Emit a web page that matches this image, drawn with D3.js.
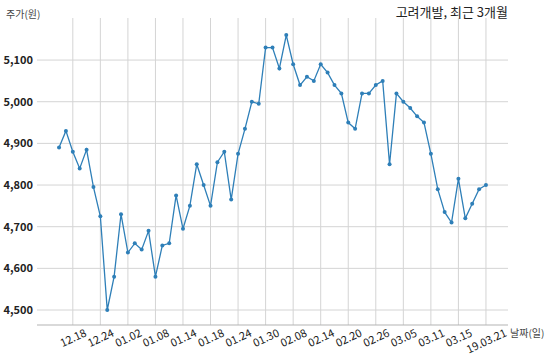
<!DOCTYPE html>
<html>
<head>
<meta charset="utf-8">
<script src="https://cdn.jsdelivr.net/npm/d3@7"></script>
<style>
  body { margin: 0; background: #fff; }
  text { font-family: "Noto Sans CJK KR", "Noto Sans", sans-serif; }
</style>
</head>
<body>
<div id="chart"></div>
<script>
"use strict";

// trading days, 2018.12.14 ~ 2019.03.21
const dates = [
  "12.14", "12.17", "12.18", "12.19", "12.20", "12.21", "12.24", "12.26", "12.27", "12.28",
  "01.02", "01.03", "01.04", "01.07", "01.08", "01.09", "01.10", "01.11", "01.14", "01.15",
  "01.16", "01.17", "01.18", "01.21", "01.22", "01.23", "01.24", "01.25", "01.28", "01.29",
  "01.30", "01.31", "02.01", "02.07", "02.08", "02.11", "02.12", "02.13", "02.14", "02.15",
  "02.18", "02.19", "02.20", "02.21", "02.22", "02.25", "02.26", "02.27", "02.28", "03.04",
  "03.05", "03.06", "03.07", "03.08", "03.11", "03.12", "03.13", "03.14", "03.15", "03.18",
  "03.19", "03.20", "03.21"
];

const prices = [
  4890, 4930, 4880, 4840, 4885, 4795, 4725, 4500, 4580, 4730,
  4638, 4660, 4645, 4690, 4580, 4655, 4660, 4775, 4695, 4750,
  4850, 4800, 4750, 4855, 4880, 4765, 4875, 4935, 5000, 4995,
  5130, 5130, 5080, 5160, 5090, 5040, 5060, 5050, 5090, 5070,
  5040, 5020, 4950, 4935, 5020, 5020, 5040, 5050, 4850, 5020,
  5000, 4985, 4965, 4950, 4875, 4790, 4735, 4710, 4815, 4720,
  4755, 4790, 4800
];

const tickDates = ["12.18", "12.24", "01.02", "01.08", "01.14", "01.18", "01.24", "01.30",
  "02.08", "02.14", "02.20", "02.26", "03.05", "03.11", "03.15", "03.21"];
const tickLabels = ["12.18", "12.24", "01.02", "01.08", "01.14", "01.18", "01.24", "01.30",
  "02.08", "02.14", "02.20", "02.26", "03.05", "03.11", "03.15", "19.03.21"];

const yTicks = [4500, 4600, 4700, 4800, 4900, 5000, 5100];

const title = "고려개발, 최근 3개월";
const yLabel = "주가(원)";
const xLabel = "날짜(일)";

drawChart();

function drawChart() {
  const width = 550, height = 360;
  const plotLeft = 37, plotRight = 508, plotTop = 18, plotBottom = 325;
  const lineColor = "#2e7fb8";

  const svg = d3.select("#chart").append("svg")
    .attr("width", width)
    .attr("height", height);

  const x = d3.scalePoint()
    .domain(dates)
    .range([plotLeft, plotRight])
    .padding(3.2);

  const y = d3.scaleLinear()
    .domain([4464, 5201])
    .range([plotBottom, plotTop]);

  // horizontal grid
  svg.append("g")
    .selectAll("line")
    .data(yTicks)
    .join("line")
    .attr("x1", plotLeft).attr("x2", plotRight)
    .attr("y1", d => y(d)).attr("y2", d => y(d))
    .attr("stroke", "#d4d4d4")
    .attr("stroke-width", 1);

  // vertical grid
  svg.append("g")
    .selectAll("line")
    .data(tickDates)
    .join("line")
    .attr("x1", d => x(d)).attr("x2", d => x(d))
    .attr("y1", plotTop).attr("y2", plotBottom)
    .attr("stroke", "#d4d4d4")
    .attr("stroke-width", 1);

  // bottom axis line
  svg.append("line")
    .attr("x1", plotLeft).attr("x2", plotRight)
    .attr("y1", plotBottom).attr("y2", plotBottom)
    .attr("stroke", "#b4b4b4")
    .attr("stroke-width", 1.2);

  // y tick labels
  svg.append("g")
    .selectAll("text")
    .data(yTicks)
    .join("text")
    .attr("x", plotLeft - 4)
    .attr("y", d => y(d))
    .attr("dy", "0.35em")
    .attr("text-anchor", "end")
    .attr("font-size", 11)
    .attr("font-weight", "bold")
    .attr("fill", "#222")
    .text(d => d3.format(",")(d));

  // x tick labels, rotated, top of rotated box sits at the axis
  const angle = 25;
  const rad = angle * Math.PI / 180;
  const xl = svg.append("g")
    .selectAll("text")
    .data(tickDates)
    .join("text")
    .attr("text-anchor", "middle")
    .attr("dominant-baseline", "central")
    .attr("font-size", 11)
    .attr("fill", "#222")
    .text((d, i) => tickLabels[i]);

  xl.each(function(d) {
    const w = this.getComputedTextLength();
    const h = 9;
    const cy = plotBottom + 2 + (w * Math.sin(rad) + h * Math.cos(rad)) / 2;
    d3.select(this)
      .attr("x", x(d)).attr("y", cy)
      .attr("transform", `rotate(${-angle},${x(d)},${cy})`);
  });

  // price line
  const line = d3.line()
    .x((d, i) => x(dates[i]))
    .y(d => y(d));

  svg.append("path")
    .datum(prices)
    .attr("d", line)
    .attr("fill", "none")
    .attr("stroke", lineColor)
    .attr("stroke-width", 1.3);

  svg.append("g")
    .selectAll("circle")
    .data(prices)
    .join("circle")
    .attr("cx", (d, i) => x(dates[i]))
    .attr("cy", d => y(d))
    .attr("r", 2)
    .attr("fill", lineColor);

  // labels
  svg.append("text")
    .attr("x", 6).attr("y", 18)
    .attr("font-size", 10)
    .attr("fill", "#444")
    .text(yLabel);

  svg.append("text")
    .attr("x", plotRight).attr("y", 17)
    .attr("text-anchor", "end")
    .attr("font-size", 13)
    .attr("fill", "#222")
    .text(title);

  svg.append("text")
    .attr("x", 510).attr("y", 337)
    .attr("font-size", 10)
    .attr("fill", "#444")
    .text(xLabel);
}
</script>
</body>
</html>
